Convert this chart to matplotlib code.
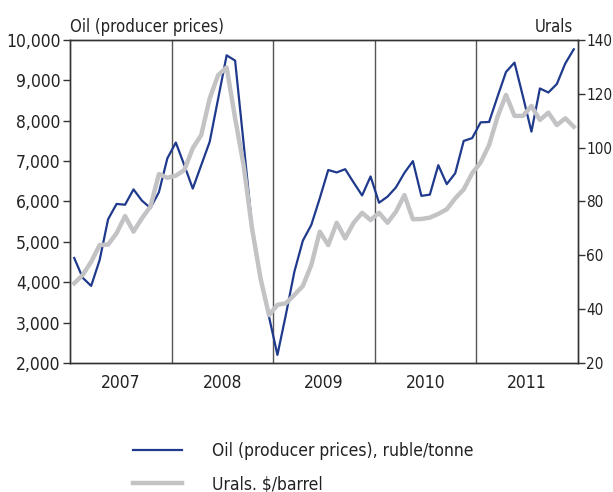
import numpy as np
import matplotlib.pyplot as plt

plt.rcParams['font.family'] = ['DejaVu Sans']
plt.rcParams['font.stretch'] = 'condensed'

years = ['2007', '2008', '2009', '2010', '2011']

# monthly values, Jan 2007 .. Dec 2011
oil = [4600, 4110, 3910, 4550, 5560, 5940, 5920, 6300, 6020, 5840, 6230, 7070,
       7460, 6900, 6320, 6900, 7480, 8550, 9620, 9490, 7450, 5380, 4060, 3150,
       2200, 3200, 4260, 5030, 5420, 6080, 6780, 6720, 6800, 6470, 6150, 6620,
       5970, 6120, 6350, 6710, 7000, 6140, 6170, 6900, 6430, 6700, 7500, 7570,
       7960, 7970, 8600, 9210, 9440, 8600, 7730, 8800, 8700, 8910, 9420, 9770]
urals = [49.6, 52.7, 57.6, 63.8, 64.0, 68.2, 74.6, 68.8, 73.8, 78.1, 90.2, 88.8,
         89.6, 91.7, 99.8, 104.7, 118.3, 127.0, 129.8, 111.0, 93.5, 70.0, 51.5, 37.8,
         41.6, 42.2, 45.3, 48.6, 56.4, 68.8, 63.8, 72.1, 66.3, 72.1, 75.8, 73.1,
         75.8, 72.1, 76.2, 82.4, 73.4, 73.5, 74.0, 75.4, 77.1, 81.2, 84.5, 90.5,
         94.5, 101.0, 111.5, 119.6, 111.8, 111.8, 115.5, 110.3, 113.0, 108.4, 110.9, 107.8]

months = np.arange(len(oil))
blue = '#1f3a8c'
grey = '#c3c3c5'
dark = '#333333'
fs = 12.5

fig = plt.figure(figsize=(6.13, 4.92), dpi=100)
ax = fig.add_axes([0.1142, 0.2622, 0.8287, 0.6565])
ax2 = ax.twinx()

l1, = ax.plot(months, oil, color=blue, lw=1.6, label='Oil (producer prices), ruble/tonne')
l2, = ax2.plot(months, urals, color=grey, lw=3.2, label='Urals. $/barrel')

for b in [11.5, 23.5, 35.5, 47.5]:
    ax.axvline(b, color='#555555', lw=1.0, zorder=0)

ax.set_xlim(-0.5, 59.5)
ax.set_ylim(2000, 10000)
ax2.set_ylim(20, 140)
ax.set_yticks(np.arange(2000, 10001, 1000))
ax.set_yticklabels(['{:,}'.format(v) for v in range(2000, 10001, 1000)])
ax2.set_yticks(np.arange(20, 141, 20))
ax.set_xticks([5.5, 17.5, 29.5, 41.5, 53.5])
ax.set_xticklabels(years)

ax.tick_params(axis='x', length=0, pad=8, labelsize=fs, colors='#222222')
ax.tick_params(axis='y', length=5, width=1, color=dark, labelsize=fs, labelcolor='#222222', pad=2)
ax2.tick_params(axis='y', length=5, width=1, color=dark, labelsize=11, labelcolor='#222222', pad=1)
for a in (ax, ax2):
    for s in a.spines.values():
        s.set_color(dark)
        s.set_linewidth(1.0)

ax.text(0, 1.012, 'Oil (producer prices)', transform=ax.transAxes, ha='left', va='bottom',
        fontsize=12, color='#222222')
ax.text(0.99, 1.012, 'Urals', transform=ax.transAxes, ha='right', va='bottom',
        fontsize=12, color='#222222')

fig.legend(handles=[l1, l2], loc='upper left', bbox_to_anchor=(0.192, 0.133),
           frameon=False, fontsize=12.5, handlelength=2.8, handletextpad=1.75,
           labelspacing=0.87, labelcolor='#222222')

fig.savefig('out.png', dpi=100)
